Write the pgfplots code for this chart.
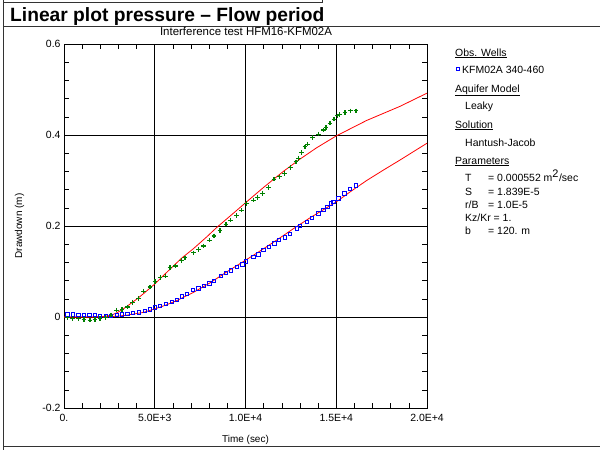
\documentclass[border=0pt]{standalone}
\usepackage{fontspec}
\setmainfont{Liberation Sans}
\usepackage{pgfplots}
\pgfplotsset{compat=1.18}
\definecolor{dgreen}{RGB}{0,128,0}
\begin{document}
\begin{tikzpicture}
\useasboundingbox (0,0) rectangle (600bp,-450bp);
% frame
\draw[black!80,line width=1bp] (3.5bp,0) -- (3.5bp,-450bp);
\draw[black!80,line width=1bp] (3.5bp,-2.5bp) -- (322bp,-2.5bp) -- (322bp,0);
\draw[black!80,line width=1.2bp] (3.5bp,-26.5bp) -- (600bp,-26.5bp);
\draw[black!80,line width=1.2bp] (3.5bp,-446.5bp) -- (600bp,-446.5bp);
% titles
\node[anchor=base west,inner sep=0pt,font=\fontsize{19.3}{22}\selectfont\bfseries] at (10bp,-21bp) {Linear plot pressure – Flow period};
\node[anchor=base,inner sep=0pt,font=\fontsize{11.5}{13}\selectfont] at (246bp,-35bp) {Interference test HFM16-KFM02A};
\begin{axis}[
  at={(64bp,-408bp)}, anchor=south west,
  scale only axis, width=363bp, height=364bp,
  xmin=0, xmax=20000, ymin=-0.2, ymax=0.6,
  xtick={0,5000,10000,15000,20000},
  xticklabels={0.,5.0E+3,1.0E+4,1.5E+4,2.0E+4},
  ytick={-0.2,0,0.2,0.4,0.6},
  yticklabels={-0.2,0,0.2,0.4,0.6},
  scaled ticks=false,
  minor x tick num=4, minor y tick num=4,
  xtick pos=both, ytick pos=both,
  tick align=inside,
  major tick length=5bp, minor tick length=5bp,
  tick style={black,line width=0.6bp},
  grid=major,
  major grid style={black,line width=0.8bp},
  axis line style={black,line width=0.8bp},
  tick label style={font=\fontsize{10.5}{12}\selectfont},
  xticklabel style={yshift=-3bp},
  label style={font=\fontsize{10.5}{12}\selectfont},
  xlabel={Time (sec)}, ylabel={Drawdown (m)},
  every axis x label/.style={at={(axis description cs:0.5,0)},anchor=base,yshift=-34bp},
  every axis y label/.style={at={(axis description cs:0,0.5)},xshift=-42bp,rotate=90,anchor=base},
  clip=true,
]
% blue observed
\addplot[only marks, mark=square, mark size=1.7bp, blue, mark options={line width=0.8bp}] coordinates {
(184,0.006)(478,0.0055)(790,0.005)(1102,0.005)(1396,0.004)(1690,0.004)(1983,0.003)(2296,0.003)(2590,0.003)(2902,0.004)
(3196,0.006)(3489,0.007)(3783,0.009)(4114,0.010)(4463,0.013)(4738,0.017)(5014,0.021)(5289,0.024)(5620,0.029)(5932,0.033)
(6208,0.037)(6483,0.045)(6777,0.051)(7089,0.059)(7401,0.063)(7713,0.069)(8007,0.074)(8264,0.080)(8632,0.091)(8907,0.097)
(9183,0.102)(9513,0.110)(9826,0.116)(10009,0.122)(10432,0.132)(10707,0.138)(10983,0.147)(11276,0.154)(11589,0.162)(11846,0.169)
(12176,0.175)(12452,0.183)(12819,0.195)(13003,0.200)(13370,0.209)(13646,0.218)(14013,0.228)(14288,0.235)(14508,0.242)(14692,0.250)
(14839,0.253)(15115,0.261)(15445,0.272)(15757,0.281)(16088,0.289)
};
% green observed
\addplot[only marks, mark=+, mark size=2.3bp, dgreen, mark options={line width=1.1bp}] coordinates {
(184,-0.002)(478,-0.003)(790,-0.004)(1102,-0.005)(1433,-0.007)(1708,-0.005)(1983,-0.003)(2296,-0.001)(2590,0.004)(2902,0.015)
(3196,0.016)(3489,0.022)(3783,0.032)(4114,0.041)(4371,0.057)(4738,0.066)(5014,0.078)(5300,0.087)(5600,0.090)(5840,0.109)
(6152,0.112)(6483,0.124)(6667,0.130)(7125,0.141)(7401,0.149)(7677,0.156)(8007,0.169)(8264,0.178)(8595,0.190)(8925,0.204)
(9183,0.213)(9513,0.223)(9789,0.235)(10064,0.250)(10432,0.257)(10652,0.263)(10946,0.272)(11258,0.285)(11570,0.303)(11864,0.308)
(12139,0.316)(12488,0.329)(12782,0.341)(12911,0.349)(13095,0.361)(13278,0.374)(13407,0.380)(13701,0.394)(14013,0.402)(14288,0.411)
(14435,0.416)(14655,0.426)(14876,0.435)(15060,0.442)(15170,0.445)(15482,0.449)(15794,0.453)(16088,0.453)
};
% red fits
\addplot[red, line width=0.8bp] coordinates {
(0,0)(1000,0)(1800,0.0003)(2200,0.001)(2600,0.004)(2900,0.009)(3200,0.016)(3453,0.023)(4000,0.039)(4371,0.051)(5014,0.073)
(5500,0.092)(6023,0.112)(6500,0.130)(7125,0.150)(7860,0.176)(8448,0.198)(9330,0.228)(10028,0.252)(11000,0.285)(12084,0.320)
(13000,0.347)(13921,0.372)(15000,0.398)(16676,0.432)(18512,0.463)(20000,0.492)
};
\addplot[red, line width=0.8bp] coordinates {
(0,0)(1000,0)(2000,0.0003)(2600,0.001)(3000,0.002)(3453,0.004)(3900,0.007)(4371,0.010)(5014,0.018)(5600,0.026)(6208,0.036)(7126,0.054)(8044,0.075)
(8962,0.099)(10009,0.125)(10799,0.145)(11717,0.169)(12635,0.194)(13554,0.218)(14300,0.236)(15000,0.253)(15800,0.276)(16676,0.300)(17600,0.323)(18512,0.345)(20000,0.382)
};
\end{axis}
% right panel
\begin{scope}[every node/.style={anchor=base west,inner sep=0pt,font=\fontsize{10.5}{12}\selectfont}]
\node at (455bp,-56bp) {\underline{Obs. Wells}};
\node[draw=blue,line width=0.8bp,minimum size=3bp,inner sep=0pt,anchor=center] at (458bp,-69bp) {};
\node at (462bp,-73bp) {KFM02A 340-460};
\node at (455bp,-92bp) {\underline{Aquifer Model}};
\node at (465bp,-109bp) {Leaky};
\node at (455bp,-128bp) {\underline{Solution}};
\node at (465bp,-146bp) {Hantush-Jacob};
\node at (455bp,-164bp) {\underline{Parameters}};
\node at (465bp,-181bp) {T};
\node at (488bp,-181bp) {= 0.000552 m\textsuperscript{\fontsize{11}{12}\selectfont 2}/sec};
\node at (465bp,-195bp) {S};
\node at (488bp,-195bp) {= 1.839E-5};
\node at (465bp,-208bp) {r/B};
\node at (488bp,-208bp) {= 1.0E-5};
\node at (465bp,-221bp) {Kz/Kr = 1.};
\node at (465bp,-234bp) {b};
\node at (488bp,-234bp) {= 120. m};
\end{scope}
\end{tikzpicture}
\end{document}
